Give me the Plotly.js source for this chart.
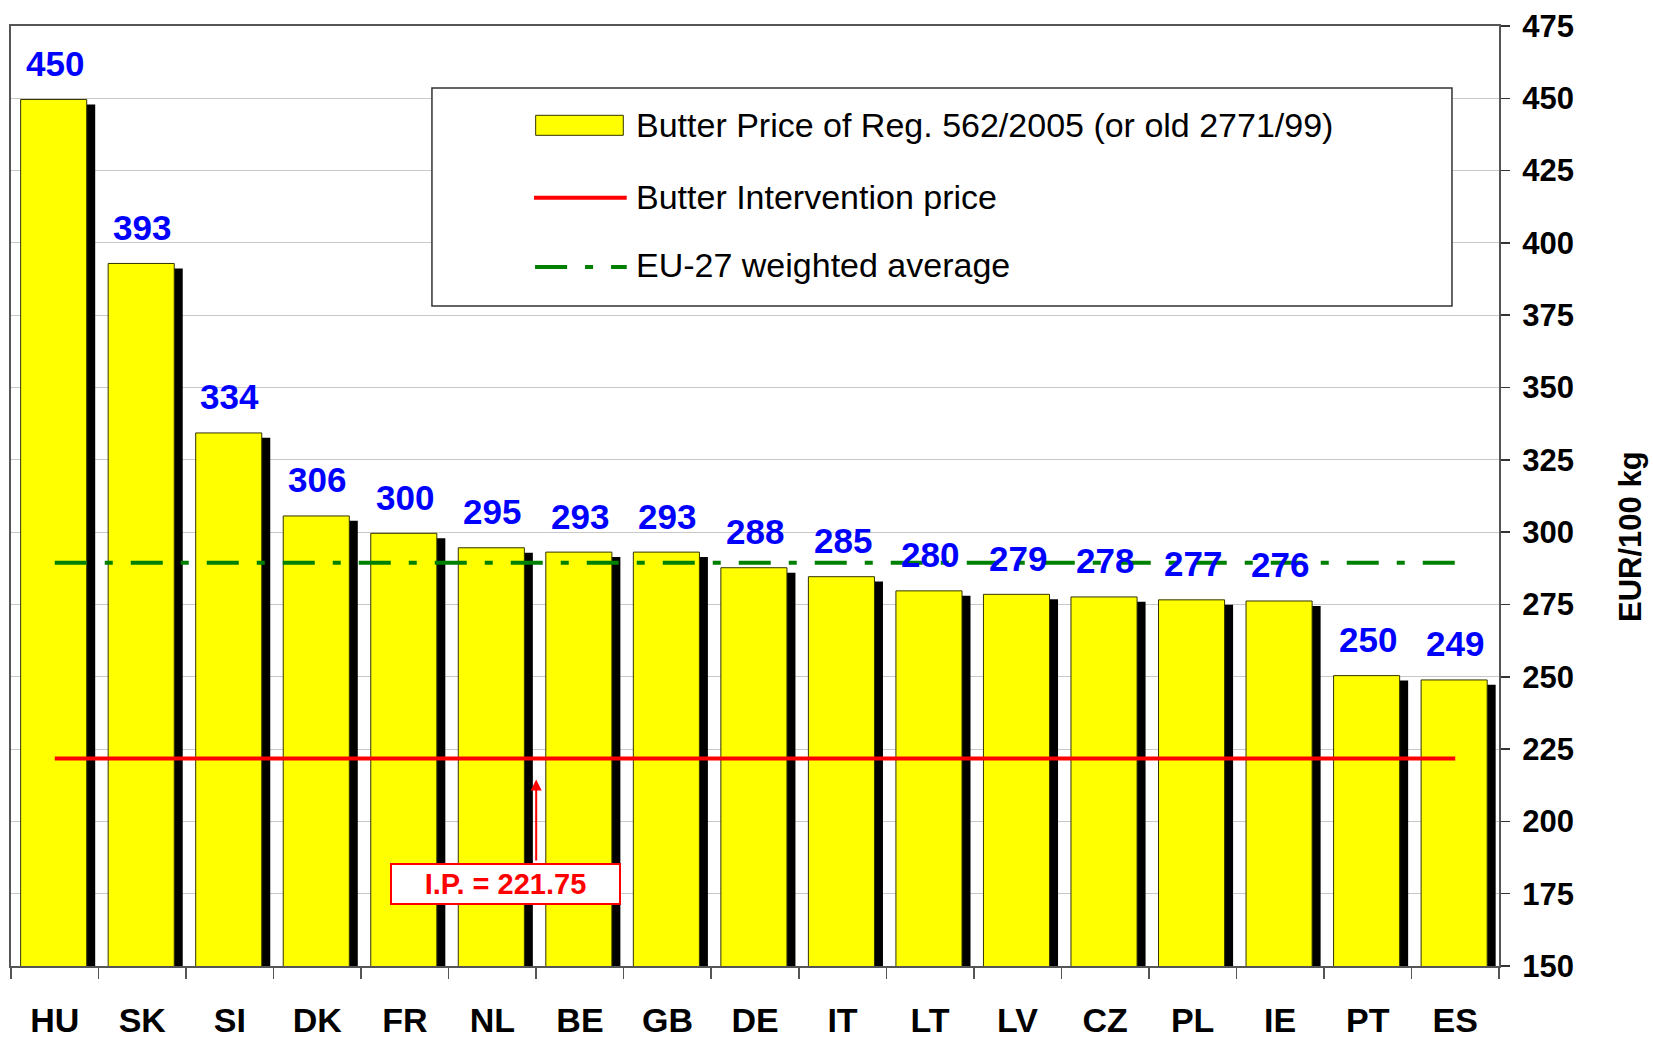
<!DOCTYPE html>
<html>
<head>
<meta charset="utf-8">
<script src="https://cdn.plot.ly/plotly-3.0.1.min.js"></script>
<style>
  html, body { margin: 0; padding: 0; background: #ffffff; }
  #chart { width: 1653px; height: 1038px; }
</style>
</head>
<body>
<div id="chart"></div>
<script>
// ---- data ----
const countries = ['HU','SK','SI','DK','FR','NL','BE','GB','DE','IT','LT','LV','CZ','PL','IE','PT','ES'];
const butterPrice = [449.6, 392.9, 334.3, 305.6, 299.6, 294.6, 293.1, 293.1, 287.7, 284.6, 279.7, 278.5, 277.6, 276.6, 276.2, 250.4, 248.9];
const interventionPrice = 221.75;
const euAverage = 289.4;
const yTickValues = [150, 175, 200, 225, 250, 275, 300, 325, 350, 375, 400, 425, 450, 475];
const legendNames = [
  'Butter Price of Reg. 562/2005 (or old 2771/99)',
  'Butter Intervention price',
  'EU-27 weighted average'
];
const ipLabel = 'I.P. = 221.75';
const yAxisTitle = 'EUR/100 kg';

// ---- style ----
const FONT = '"Liberation Sans", Arial, Helvetica, sans-serif';
const shadowDrop = 1.7;      // shadow sits slightly lower (axis units)
const barWidth = 0.755;
const barOffset = -0.39;
const shadowShift = 0.097;

const traces = [
  {
    type: 'bar', x: countries, y: butterPrice.map(v => v - shadowDrop),
    width: barWidth, offset: barOffset + shadowShift,
    marker: { color: '#000000' }, showlegend: false, hoverinfo: 'skip'
  },
  {
    type: 'bar', x: countries, y: butterPrice, name: legendNames[0],
    width: barWidth, offset: barOffset,
    marker: { color: '#FFFF00', line: { color: '#333300', width: 1 } }
  },
  {
    type: 'scatter', mode: 'lines', x: countries, y: countries.map(() => interventionPrice),
    name: legendNames[1], line: { color: '#FF0000', width: 4 }
  },
  {
    type: 'scatter', mode: 'lines', x: countries, y: countries.map(() => euAverage),
    name: legendNames[2], line: { color: '#008000', width: 4, dash: '32px,18px,8px,18px' }
  }
];

const annotations = butterPrice.map((v, i) => ({
  x: i, y: v, xref: 'x', yref: 'y',
  text: String(Math.round(v)),
  showarrow: false, yanchor: 'middle', xanchor: 'center', yshift: 36,
  font: { family: FONT, size: 35, color: '#0000FF', weight: 'bold' }
}));

// I.P. arrow and label box
annotations.push({
  x: 5.5, y: interventionPrice, xref: 'x', yref: 'y',
  ax: 5.5, ay: 186, axref: 'x', ayref: 'y',
  text: '', showarrow: true, arrowhead: 2, arrowsize: 1.1, arrowwidth: 2,
  arrowcolor: '#FF0000', standoff: 21
});
annotations.push({
  x: 5.15, y: 178.5, xref: 'x', yref: 'y',
  text: ipLabel, showarrow: false,
  font: { family: FONT, size: 29, color: '#FF0000', weight: 'bold' },
  bgcolor: '#FFFFFF', bordercolor: '#FF0000', borderwidth: 2, borderpad: 1,
  width: 225, height: 36, align: 'center', valign: 'middle'
});

// custom legend texts
const legendRowsY = [0.8952, 0.8184, 0.7457];
legendNames.forEach((t, i) => annotations.push({
  x: 0.4185, y: legendRowsY[i], xref: 'paper', yref: 'paper',
  text: t, showarrow: false, xanchor: 'left', yanchor: 'middle',
  font: { family: FONT, size: 34, color: '#000000' }
}));

// y axis title
annotations.push({
  x: 1.088, y: 0.4574, xref: 'paper', yref: 'paper',
  text: yAxisTitle, textangle: -90, showarrow: false,
  xanchor: 'center', yanchor: 'middle',
  font: { family: FONT, size: 31, color: '#000000', weight: 'bold' }
});

const shapes = [
  // legend frame
  { type: 'rect', xref: 'paper', yref: 'paper', x0: 0.2829, x1: 0.9684, y0: 0.7021, y1: 0.9340,
    fillcolor: '#FFFFFF', line: { color: '#333333', width: 1.5 }, layer: 'above' },
  // legend symbols
  { type: 'rect', xref: 'paper', yref: 'paper', x0: 0.3526, x1: 0.4115, y0: 0.8837, y1: 0.9050,
    fillcolor: '#FFFF00', line: { color: '#333300', width: 1 }, layer: 'above' },
  { type: 'line', xref: 'paper', yref: 'paper', x0: 0.3515, x1: 0.4138, y0: 0.8173, y1: 0.8173,
    line: { color: '#FF0000', width: 4 }, layer: 'above' },
  { type: 'line', xref: 'paper', yref: 'paper', x0: 0.3522, x1: 0.4138, y0: 0.7436, y1: 0.7436,
    line: { color: '#008000', width: 4, dash: '32px,18px,8px,18px' }, layer: 'above' }
];

const layout = {
  width: 1653, height: 1038,
  margin: { l: 11, r: 154, t: 26, b: 72, pad: 0 },
  paper_bgcolor: '#FFFFFF', plot_bgcolor: '#FFFFFF',
  font: { family: FONT, color: '#000000' },
  barmode: 'overlay',
  showlegend: false,
  xaxis: {
    type: 'category', range: [-0.5, 16.5],
    tickson: 'boundaries', ticks: 'outside', ticklen: 11, tickwidth: 1.5, tickcolor: '#555555',
    showline: true, linecolor: '#555555', linewidth: 2, mirror: true,
    showgrid: false, zeroline: false,
    tickfont: { family: FONT, size: 34, color: '#000000', weight: 'bold' },
    ticklabelstandoff: 23
  },
  yaxis: {
    side: 'right', range: [150, 475], tickvals: yTickValues,
    ticks: 'outside', ticklen: 9, tickwidth: 1.5, tickcolor: '#333333',
    showline: true, linecolor: '#555555', linewidth: 2, mirror: true,
    showgrid: true, gridcolor: '#C8C8C8', gridwidth: 1, zeroline: false,
    tickfont: { family: FONT, size: 31, color: '#000000', weight: 'bold' },
    ticklabelstandoff: 6
  },
  shapes: shapes,
  annotations: annotations
};

Plotly.newPlot('chart', traces, layout, { staticPlot: true, displayModeBar: false });
</script>
</body>
</html>
